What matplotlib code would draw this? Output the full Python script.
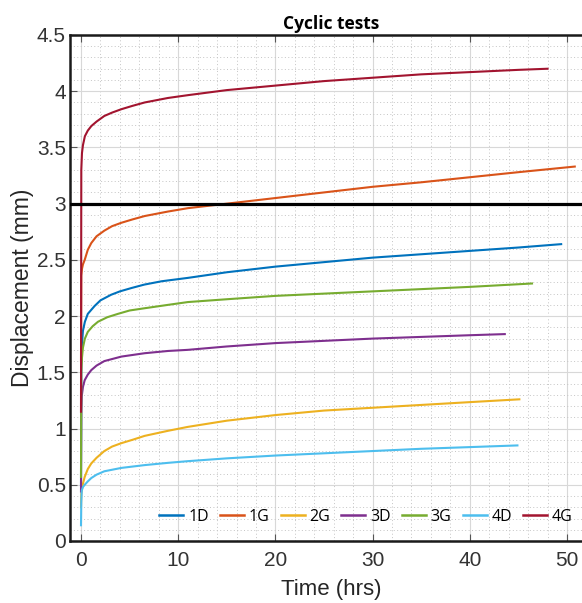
import matplotlib
matplotlib.use("Agg")
import matplotlib.pyplot as plt
from matplotlib.ticker import MultipleLocator, FixedLocator

labels = ["1D", "1G", "2G", "3D", "3G", "4D", "4G"]
colors = ["#0072BD", "#D95319", "#EDB120", "#7E2F8E", "#77AC30", "#4DBEEE", "#A2142F"]

t_1D = [0, 0.03, 0.1, 0.2, 0.4, 0.7, 1.4, 2, 3.1, 4, 5.2, 6.5, 8.3, 11, 15, 20, 25, 30, 35, 40, 45, 49.4]
v_1D = [0.5, 1.55, 1.75, 1.87, 1.95, 2.02, 2.09, 2.14, 2.19, 2.22, 2.25, 2.28, 2.31, 2.34, 2.39, 2.44, 2.48, 2.52, 2.55, 2.58, 2.61, 2.64]

t_1G = [0, 0.03, 0.1, 0.2, 0.38, 0.7, 1.06, 1.6, 2.4, 3.2, 4.15, 5.3, 6.55, 8.95, 11, 15, 20, 25, 30, 35, 40, 45, 50.8]
v_1G = [1.6, 2.36, 2.42, 2.46, 2.50, 2.59, 2.65, 2.71, 2.76, 2.80, 2.83, 2.86, 2.89, 2.93, 2.96, 3.00, 3.05, 3.10, 3.15, 3.19, 3.235, 3.28, 3.33]

t_2G = [0, 0.03, 0.1, 0.2, 0.38, 0.7, 1.06, 1.6, 2.4, 3.2, 4.15, 5.3, 6.55, 8.95, 11, 15, 20, 25, 30, 35, 40, 45.1]
v_2G = [0.3, 0.42, 0.46, 0.51, 0.57, 0.64, 0.69, 0.74, 0.80, 0.84, 0.87, 0.90, 0.935, 0.98, 1.015, 1.07, 1.12, 1.16, 1.185, 1.21, 1.235, 1.26]

t_3D = [0, 0.03, 0.08, 0.2, 0.38, 0.7, 1.06, 1.6, 2.4, 4.15, 6.55, 8.95, 11, 15, 20, 25, 30, 35, 40, 43.6]
v_3D = [0.44, 1.15, 1.29, 1.37, 1.43, 1.48, 1.52, 1.56, 1.60, 1.64, 1.67, 1.69, 1.70, 1.73, 1.76, 1.78, 1.80, 1.815, 1.83, 1.84]

t_3G = [0, 0.03, 0.1, 0.2, 0.4, 0.7, 1.2, 1.75, 2.7, 3.8, 5, 6.55, 8.95, 11, 15, 20, 25, 30, 35, 40, 46.4]
v_3G = [0.57, 1.5, 1.63, 1.72, 1.80, 1.86, 1.91, 1.95, 1.99, 2.02, 2.05, 2.07, 2.10, 2.125, 2.15, 2.18, 2.20, 2.22, 2.24, 2.26, 2.29]

t_4D = [0, 0.03, 0.08, 0.2, 0.38, 0.7, 1.06, 1.6, 2.4, 4.15, 6.55, 8.95, 11, 15, 20, 25, 30, 35, 40, 44.9]
v_4D = [0.14, 0.35, 0.45, 0.48, 0.50, 0.53, 0.56, 0.59, 0.62, 0.65, 0.675, 0.695, 0.71, 0.735, 0.76, 0.78, 0.80, 0.82, 0.835, 0.85]

t_4G = [0, 0.03, 0.1, 0.2, 0.4, 0.7, 1.06, 1.6, 2.4, 3.2, 4.15, 5.3, 6.55, 8.95, 11, 15, 20, 25, 30, 35, 40, 45, 48]
v_4G = [1.15, 3.3, 3.45, 3.52, 3.60, 3.65, 3.69, 3.73, 3.78, 3.81, 3.84, 3.87, 3.90, 3.94, 3.965, 4.01, 4.05, 4.09, 4.12, 4.15, 4.17, 4.19, 4.20]

series_t = [t_1D, t_1G, t_2G, t_3D, t_3G, t_4D, t_4G]
series_v = [v_1D, v_1G, v_2G, v_3D, v_3G, v_4D, v_4G]

threshold = 3.0
x_ticks = [0, 10, 20, 30, 40, 50]
y_ticks = [0, 0.5, 1, 1.5, 2, 2.5, 3, 3.5, 4, 4.5]
y_tick_labels = ["0", "0.5", "1", "1.5", "2", "2.5", "3", "3.5", "4", "4.5"]

W, H = 582, 603
fig = plt.figure(figsize=(W / 100, H / 100), dpi=100)
left_px, right_px, top_px, bot_px = 70, 592, 35, 541
ax = fig.add_axes([left_px / W, 1 - bot_px / H, (right_px - left_px) / W, (bot_px - top_px) / H])

for t, v, c, lab in zip(series_t, series_v, colors, labels):
    ax.plot(t, v, color=c, lw=1.5, label=lab, zorder=3)

ax.axhline(threshold, color="black", lw=2.3, zorder=4)

x0 = (left_px - 81) / 9.72
x1 = (right_px - 81) / 9.72
ax.set_xlim(x0, x1)
ax.set_ylim(0, 4.5)

ax.xaxis.set_major_locator(FixedLocator(x_ticks))
ax.yaxis.set_major_locator(FixedLocator(y_ticks))
ax.set_yticklabels(y_tick_labels)
ax.xaxis.set_minor_locator(MultipleLocator(2))
ax.yaxis.set_minor_locator(MultipleLocator(0.1))

ax.grid(which="major", color="#d8d8d8", lw=0.8, ls="-", zorder=0)
ax.grid(which="minor", color="#c4c4c4", lw=0.7, ls=(0, (1, 2.5)), zorder=0)
ax.set_axisbelow(True)

for s in ["left", "bottom", "top"]:
    ax.spines[s].set_linewidth(1.8)
    ax.spines[s].set_color("#1a1a1a")
ax.spines["right"].set_visible(False)

ax.tick_params(which="major", direction="in", length=5, width=0.8, color="#555555",
               top=True, labelsize=15, labelcolor="#333333")
ax.tick_params(axis="y", which="major", pad=3)
ax.tick_params(axis="x", which="major", pad=7)
ax.tick_params(which="minor", length=0)
for lab in ax.get_xticklabels() + ax.get_yticklabels():
    lab.set_fontfamily("Liberation Sans")

ax.set_xlabel("Time (hrs)", fontsize=16, family="Liberation Sans", color="#262626", labelpad=7)
ax.set_ylabel("Displacement (mm)", fontsize=16.5, family="Liberation Sans", color="#262626", labelpad=2)
ax.set_title("Cyclic tests", fontsize=12.5, fontweight="bold", family="Open Sans", pad=4)

leg = ax.legend(loc="center", bbox_to_anchor=(366 / W, 1 - 517 / H), bbox_transform=fig.transFigure,
                ncol=7, frameon=False, handlelength=1.5, handletextpad=0.3,
                columnspacing=0.7, prop={"family": "Open Sans", "size": 11.5})
for line in leg.get_lines():
    line.set_linewidth(1.8)

fig.savefig("out.png", dpi=100)
